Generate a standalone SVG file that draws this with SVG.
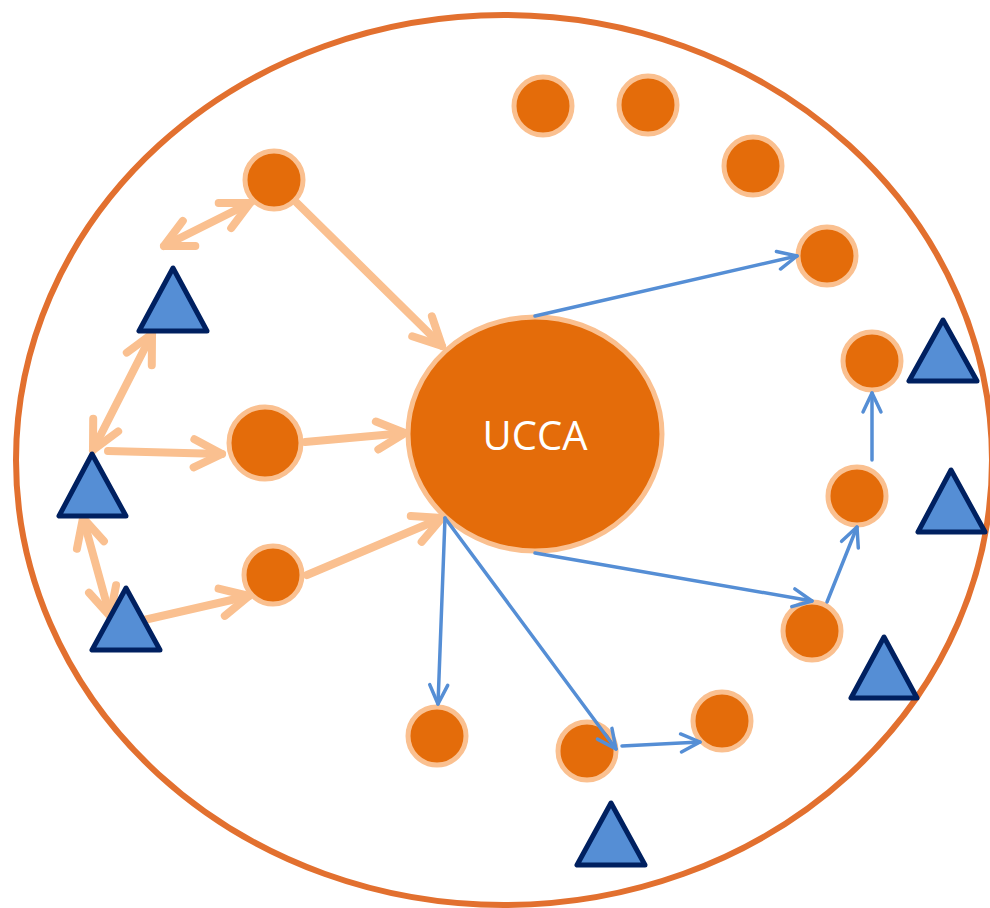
<svg xmlns="http://www.w3.org/2000/svg" width="990" height="908" viewBox="0 0 990 908">
<style>
.nd{fill:#E46C0A;stroke:#FAC090;stroke-width:5}
.tr{fill:#558ED5;stroke:#002060;stroke-width:5;stroke-linejoin:round}
.oa{fill:none;stroke:#FAC090;stroke-width:8;stroke-linecap:round}
.ba{fill:none;stroke:#558ED5;stroke-width:3.5;stroke-linecap:round}
.lbl{font-family:"Open Sans","Liberation Sans",sans-serif;font-size:40px;fill:#FFFFFF}
</style>
<defs>
<marker id="mo" markerUnits="userSpaceOnUse" viewBox="-40 -25 50 50" markerWidth="50" markerHeight="50" refX="0" refY="0" orient="auto-start-reverse" overflow="visible">
<path d="M-28 -14 L0 0 L-28 14" fill="none" stroke="#FAC090" stroke-width="8" stroke-linecap="round" stroke-linejoin="round"/>
</marker>
<marker id="mb" markerUnits="userSpaceOnUse" viewBox="-30 -20 40 40" markerWidth="40" markerHeight="40" refX="0" refY="0" orient="auto-start-reverse" overflow="visible">
<path d="M-19 -9 L0 0 L-19 9" fill="none" stroke="#558ED5" stroke-width="3.5" stroke-linecap="round" stroke-linejoin="round"/>
</marker>
</defs>
<rect width="990" height="908" fill="#FFFFFF"/>
<ellipse id="boundary" cx="504" cy="460" rx="488" ry="445" fill="none" stroke="#E2702F" stroke-width="6"/>
<g id="ucca"><ellipse class="nd" cx="535" cy="434" rx="127" ry="117"/><text class="lbl" x="535" y="450" text-anchor="middle">UCCA</text></g>
<g id="n1"><circle class="nd" cx="543" cy="106" r="29"/></g>
<g id="n2"><circle class="nd" cx="648" cy="105" r="29"/></g>
<g id="n3"><circle class="nd" cx="753" cy="166" r="29"/></g>
<g id="n4"><circle class="nd" cx="827" cy="256" r="29"/></g>
<g id="n5"><circle class="nd" cx="872" cy="361" r="29"/></g>
<g id="n6"><circle class="nd" cx="857" cy="496" r="29"/></g>
<g id="n7"><circle class="nd" cx="812" cy="631" r="29"/></g>
<g id="n8"><circle class="nd" cx="722" cy="721" r="29"/></g>
<g id="n9"><circle class="nd" cx="587" cy="751" r="29"/></g>
<g id="n10"><circle class="nd" cx="437" cy="736" r="29"/></g>
<g id="n11"><circle class="nd" cx="273" cy="575" r="29"/></g>
<g id="n12"><circle class="nd" cx="265" cy="443" r="36"/></g>
<g id="n13"><circle class="nd" cx="274" cy="180" r="29"/></g>
<g id="connectors">
<g id="connectors-orange">
<line class="oa" x1="164" y1="246" x2="250" y2="203" marker-start="url(#mo)" marker-end="url(#mo)"/>
<line class="oa" x1="297" y1="203" x2="442" y2="346" marker-end="url(#mo)"/>
<line class="oa" x1="152" y1="334" x2="93" y2="450" marker-start="url(#mo)" marker-end="url(#mo)"/>
<line class="oa" x1="108" y1="451" x2="222" y2="454" marker-end="url(#mo)"/>
<line class="oa" x1="305" y1="442" x2="405" y2="433" marker-end="url(#mo)"/>
<line class="oa" x1="83" y1="518" x2="110" y2="616" marker-start="url(#mo)" marker-end="url(#mo)"/>
<line class="oa" x1="144" y1="620" x2="249" y2="596" marker-end="url(#mo)"/>
<line class="oa" x1="307" y1="575" x2="442" y2="518" marker-end="url(#mo)"/>
</g>
</g>
<g id="t1"><polygon class="tr" points="173,268 139,331 207,331"/></g>
<g id="t2"><polygon class="tr" points="92,454 59,516 126,516"/></g>
<g id="t3"><polygon class="tr" points="126,588 92,650 160,650"/></g>
<g id="t4"><polygon class="tr" points="943,320 909,381 977,381"/></g>
<g id="t5"><polygon class="tr" points="951,470 918,532 985,532"/></g>
<g id="t6"><polygon class="tr" points="884,637 851,698 917,698"/></g>
<g id="t7"><polygon class="tr" points="611,803 577,865 645,865"/></g>
<g id="connectors-blue">
<line class="ba" x1="535" y1="316" x2="797" y2="256" marker-end="url(#mb)"/>
<line class="ba" x1="535" y1="553" x2="812" y2="601" marker-end="url(#mb)"/>
<line class="ba" x1="827" y1="602" x2="857" y2="527" marker-end="url(#mb)"/>
<line class="ba" x1="872" y1="460" x2="872" y2="393" marker-end="url(#mb)"/>
<line class="ba" x1="445" y1="518" x2="438" y2="704" marker-end="url(#mb)"/>
<line class="ba" x1="445" y1="518" x2="616" y2="749" marker-end="url(#mb)"/>
<line class="ba" x1="622" y1="746" x2="700" y2="742" marker-end="url(#mb)"/>
</g>
</svg>
